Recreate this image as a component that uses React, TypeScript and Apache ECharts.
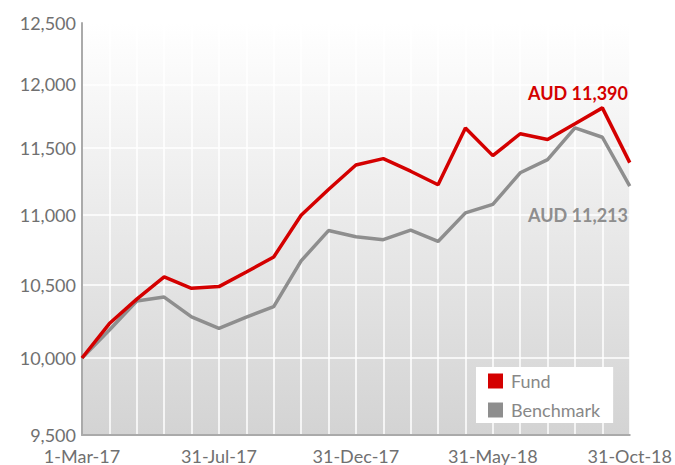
import React, { useEffect, useRef } from "react";
import * as echarts from "echarts";

const categories = [
  "1-Mar-17", "31-Mar-17", "30-Apr-17", "31-May-17", "30-Jun-17", "31-Jul-17",
  "31-Aug-17", "30-Sep-17", "31-Oct-17", "30-Nov-17", "31-Dec-17", "31-Jan-18",
  "28-Feb-18", "31-Mar-18", "30-Apr-18", "31-May-18", "30-Jun-18", "31-Jul-18",
  "31-Aug-18", "30-Sep-18", "31-Oct-18",
];

const fundValues = [
  10000, 10232, 10400, 10555, 10475, 10487, 10590, 10696, 10998, 11188, 11372,
  11420, 11325, 11223, 11656, 11443, 11611, 11567, 11689, 11813, 11390,
];

const benchmarkValues = [
  10000, 10188, 10387, 10414, 10278, 10200, 10276, 10348, 10668, 10886, 10841,
  10820, 10889, 10807, 11015, 11077, 11313, 11413, 11657, 11584, 11213,
];

const yTicks = [9500, 10000, 10500, 11000, 11500, 12000, 12500];

const fundLabel = "AUD 11,390";
const benchmarkLabel = "AUD 11,213";

const RED = "#d40000";
const GREY = "#8e8e8e";
const TEXT = "#707070";
const FONT = "Lato, 'Open Sans', sans-serif";

export default function App() {
  const ref = useRef<HTMLDivElement>(null);

  useEffect(() => {
    if (!ref.current) return;
    const chart = echarts.init(ref.current, undefined, { renderer: "svg" });
    chart.setOption({
      animation: false,
      textStyle: { fontFamily: FONT },
      grid: {
        left: 82,
        right: 43,
        top: 23,
        bottom: 29,
        show: true,
        borderWidth: 0,
        backgroundColor: new echarts.graphic.LinearGradient(0, 0, 0, 1, [
          { offset: 0, color: "#ffffff" },
          { offset: 1, color: "#d3d3d3" },
        ]),
      },
      legend: {
        left: 476,
        top: 367,
        orient: "vertical",
        backgroundColor: "#ffffff",
        padding: [5, 13, 4, 12],
        itemGap: 11,
        itemWidth: 15,
        itemHeight: 15,
        icon: "rect",
        textStyle: { fontFamily: FONT, fontSize: 18, color: "#888888", padding: [0, 0, 0, 3] },
        data: ["Fund", "Benchmark"],
      },
      xAxis: {
        type: "category",
        data: categories,
        boundaryGap: false,
        axisLine: { lineStyle: { color: "#aaaaaa", width: 2 } },
        axisTick: { show: false },
        axisLabel: {
          interval: 4,
          color: TEXT,
          fontFamily: FONT,
          fontSize: 18,
          margin: 12,
        },
        splitLine: { show: true, interval: 0, lineStyle: { color: "#ffffff", width: 1.5 } },
      },
      yAxis: {
        type: "log",
        logBase: 10,
        min: 9500,
        max: 12500,
        axisLine: { show: true, lineStyle: { color: "#aaaaaa", width: 2 } },
        axisTick: { show: false, customValues: yTicks },
        axisLabel: {
          customValues: yTicks,
          color: TEXT,
          fontFamily: FONT,
          fontSize: 18,
          margin: 6,
          formatter: (v: number) => Math.round(v).toLocaleString("en-US"),
        },
        splitLine: { show: true, lineStyle: { color: "#ffffff", width: 1.5 } },
      },
      series: [
        {
          name: "Fund",
          type: "line",
          data: fundValues,
          symbol: "none",
          color: RED,
          lineStyle: { color: RED, width: 3.5 },
          itemStyle: { color: RED },
          z: 3,
        },
        {
          name: "Benchmark",
          type: "line",
          data: benchmarkValues,
          symbol: "none",
          color: GREY,
          lineStyle: { color: GREY, width: 3.5 },
          itemStyle: { color: GREY },
          z: 2,
        },
      ],
      graphic: [
        {
          type: "text",
          right: 47,
          top: 84,
          z: 100,
          style: { text: fundLabel, fill: RED, font: `bold 18px ${FONT}` },
        },
        {
          type: "text",
          right: 47,
          top: 206,
          z: 100,
          style: { text: benchmarkLabel, fill: GREY, font: `bold 18px ${FONT}` },
        },
      ],
    });
    return () => chart.dispose();
  }, []);

  return (
    <div
      ref={ref}
      style={{ position: "absolute", left: 0, top: 0, width: 675, height: 465 }}
    />
  );
}
